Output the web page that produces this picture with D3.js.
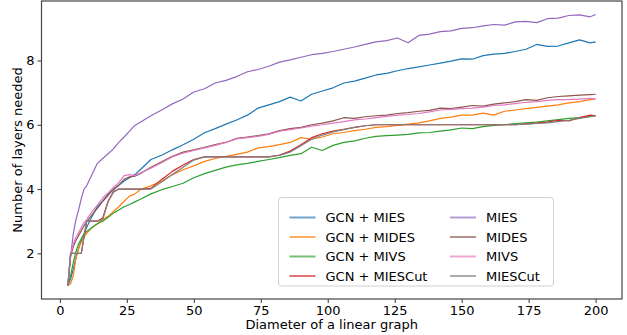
<!DOCTYPE html>
<html>
<head>
<meta charset="utf-8">
<script src="https://cdn.jsdelivr.net/npm/d3@7"></script>
<style>
  body { margin: 0; background: #fff; }
  svg { font-family: "DejaVu Sans", sans-serif; }
</style>
</head>
<body>
<div id="chart"></div>
<script>
// diameters sampled along the x axis
const diameters = [3,4,5,6,7,8,9,10,12,14,
  16,18,20,22,24,26,28,30,34,38,
  42,46,50,54,58,62,66,70,74,78,
  82,86,90,94,98,102,106,110,114,118,
  122,126,130,134,138,142,146,150,154,158,
  162,166,170,174,178,182,186,190,194,198,
  200];

const gcnMies = [1.0,1.2,1.5,1.85,2.15,2.4,2.6,2.8,3.15,3.45,
  3.62,3.85,3.98,4.12,4.25,4.35,4.45,4.6,4.92,5.05,
  5.22,5.38,5.55,5.75,5.88,6.02,6.15,6.3,6.52,6.62,
  6.72,6.86,6.74,6.95,7.05,7.15,7.3,7.36,7.45,7.55,
  7.6,7.68,7.75,7.8,7.86,7.92,7.98,8.05,8.04,8.15,
  8.2,8.22,8.28,8.35,8.5,8.44,8.45,8.55,8.64,8.55,
  8.58];
const gcnMides = [1.0,1.05,1.3,1.85,2.15,2.35,2.5,2.62,2.8,2.92,
  3.05,3.15,3.3,3.45,3.62,3.78,3.85,3.98,4.1,4.25,
  4.45,4.6,4.72,4.86,4.95,5.02,5.08,5.15,5.28,5.32,
  5.38,5.45,5.6,5.55,5.62,5.72,5.76,5.82,5.86,5.92,
  5.94,5.98,6.02,6.06,6.12,6.2,6.24,6.3,6.3,6.36,
  6.3,6.42,6.46,6.5,6.54,6.58,6.62,6.68,6.72,6.78,
  6.8];
const gcnMivs = [1.0,1.3,1.7,2.05,2.3,2.45,2.6,2.68,2.8,2.92,
  3.0,3.12,3.25,3.35,3.45,3.52,3.6,3.68,3.85,3.98,
  4.08,4.18,4.35,4.48,4.58,4.68,4.75,4.8,4.86,4.92,
  4.98,5.05,5.1,5.3,5.2,5.36,5.45,5.5,5.58,5.64,
  5.66,5.68,5.7,5.75,5.76,5.8,5.84,5.9,5.88,5.94,
  5.98,6.0,6.04,6.06,6.08,6.12,6.16,6.2,6.22,6.26,
  6.28];
const gcnMiesCut = [1.0,2.0,2.0,2.0,2.0,2.0,2.5,3.0,3.0,3.0,
  3.1,3.62,3.92,4.0,4.0,4.0,4.0,4.0,4.02,4.3,
  4.55,4.75,4.92,5.0,5.0,5.0,5.0,5.0,5.0,5.0,
  5.06,5.18,5.38,5.6,5.72,5.8,5.86,5.92,5.97,6.0,
  6.0,6.0,6.0,6.0,6.0,6.0,6.0,6.0,6.0,6.0,
  6.0,6.0,6.0,6.03,6.05,6.08,6.14,6.12,6.22,6.3,
  6.28];
const mies = [1.0,1.9,2.6,3.05,3.35,3.7,4.0,4.1,4.45,4.8,
  4.95,5.1,5.25,5.45,5.62,5.8,5.98,6.08,6.28,6.46,
  6.65,6.8,7.02,7.12,7.3,7.38,7.5,7.65,7.72,7.82,
  7.95,8.02,8.1,8.18,8.22,8.28,8.35,8.42,8.5,8.58,
  8.62,8.7,8.55,8.78,8.82,8.9,8.92,9.0,9.02,9.08,
  9.12,9.1,9.2,9.22,9.18,9.3,9.32,9.4,9.42,9.36,
  9.43];
const mides = [1.0,1.9,2.2,2.4,2.55,2.7,2.85,2.98,3.2,3.4,
  3.62,3.8,4.0,4.12,4.3,4.38,4.4,4.48,4.68,4.85,
  5.02,5.15,5.22,5.3,5.38,5.45,5.58,5.62,5.66,5.72,
  5.82,5.88,5.92,6.0,6.05,6.12,6.22,6.2,6.25,6.28,
  6.3,6.35,6.38,6.42,6.45,6.52,6.5,6.55,6.6,6.58,
  6.64,6.68,6.72,6.78,6.76,6.84,6.88,6.9,6.92,6.94,
  6.95];
const mivs = [1.0,1.95,2.3,2.5,2.65,2.8,2.95,3.05,3.3,3.5,
  3.72,3.88,4.05,4.2,4.42,4.45,4.42,4.5,4.65,4.82,
  5.0,5.12,5.2,5.28,5.36,5.45,5.56,5.6,5.64,5.7,
  5.8,5.85,5.9,5.96,6.0,6.05,6.1,6.15,6.18,6.22,
  6.26,6.3,6.32,6.35,6.4,6.46,6.48,6.5,6.52,6.55,
  6.6,6.62,6.66,6.7,6.72,6.76,6.78,6.78,6.8,6.82,
  6.8];
const miesCut = [1.0,2.0,2.0,2.0,2.0,2.0,2.5,3.0,3.0,3.0,
  3.05,3.6,3.9,4.0,4.0,4.0,4.0,4.0,4.0,4.22,
  4.45,4.68,4.9,5.0,5.0,5.0,5.0,5.0,5.0,5.0,
  5.05,5.15,5.35,5.55,5.68,5.78,5.85,5.92,5.97,6.0,
  6.0,6.0,6.0,6.0,6.0,6.0,6.0,6.0,6.0,6.0,
  6.0,6.0,6.0,6.02,6.04,6.06,6.1,6.14,6.2,6.25,
  6.28];

const seriesNames = ['GCN + MIES', 'GCN + MIDES', 'GCN + MIVS', 'GCN + MIESCut',
                     'MIES', 'MIDES', 'MIVS', 'MIESCut'];
const seriesValues = [gcnMies, gcnMides, gcnMivs, gcnMiesCut, mies, mides, mivs, miesCut];
const xTicks = [0, 25, 50, 75, 100, 125, 150, 175, 200];
const yTicks = [2, 4, 6, 8];

const colors = ['#1f77b4', '#ff7f0e', '#2ca02c', '#d62728',
                '#9467bd', '#8c564b', '#e377c2', '#7f7f7f'];

const W = 627, H = 335;
const plot = {left: 41.5, right: 622, top: 1, bottom: 299};
const fontSize = '13px';

const svg = d3.select('#chart').append('svg')
  .attr('width', W)
  .attr('height', H);

// matplotlib style 5% margins around the data
const xExt = d3.extent(diameters);
const yExt = d3.extent(seriesValues.flat());
const xPad = (xExt[1] - xExt[0]) * 0.05;
const yPad = (yExt[1] - yExt[0]) * 0.05;

const x = d3.scaleLinear()
  .domain([xExt[0] - xPad, xExt[1] + xPad])
  .range([plot.left, plot.right]);
const y = d3.scaleLinear()
  .domain([yExt[0] - yPad, yExt[1] + yPad])
  .range([plot.bottom, plot.top]);

const line = d3.line()
  .x(d => x(d[0]))
  .y(d => y(d[1]));

svg.append('defs').append('clipPath').attr('id', 'clip')
  .append('rect')
  .attr('x', plot.left).attr('y', plot.top)
  .attr('width', plot.right - plot.left)
  .attr('height', plot.bottom - plot.top);

const lines = svg.append('g').attr('clip-path', 'url(#clip)');
seriesValues.forEach((vals, i) => {
  const pts = diameters.map((d, j) => [d, vals[j]]).filter(p => p[1] != null);
  lines.append('path')
    .datum(pts)
    .attr('fill', 'none')
    .attr('stroke', colors[i])
    .attr('stroke-width', 1.2)
    .attr('stroke-linejoin', 'round')
    .attr('d', line);
});

// axes
const xAxis = d3.axisBottom(x).tickValues(xTicks).tickSize(4).tickPadding(3);
const yAxis = d3.axisLeft(y).tickValues(yTicks).tickSize(4).tickPadding(3);

const gx = svg.append('g')
  .attr('transform', 'translate(0,' + plot.bottom + ')')
  .call(xAxis);
const gy = svg.append('g')
  .attr('transform', 'translate(' + plot.left + ',0)')
  .call(yAxis);

[gx, gy].forEach(g => {
  g.select('.domain').remove();
  g.selectAll('.tick line').attr('stroke', '#333').attr('stroke-width', 1);
  g.selectAll('.tick text')
    .attr('fill', '#000')
    .style('font-size', fontSize)
    .style('font-family', '"DejaVu Sans", sans-serif');
});

// frame
svg.append('rect')
  .attr('x', plot.left).attr('y', plot.top)
  .attr('width', plot.right - plot.left)
  .attr('height', plot.bottom - plot.top)
  .attr('fill', 'none')
  .attr('stroke', '#444')
  .attr('stroke-width', 1.2);

// axis labels
svg.append('text')
  .attr('x', (plot.left + plot.right) / 2)
  .attr('y', 329)
  .attr('text-anchor', 'middle')
  .style('font-size', fontSize)
  .text('Diameter of a linear graph');

svg.append('text')
  .attr('transform', 'translate(22,' + ((plot.top + plot.bottom) / 2) + ') rotate(-90)')
  .attr('text-anchor', 'middle')
  .style('font-size', fontSize)
  .text('Number of layers needed');

// legend
const legend = svg.append('g').attr('transform', 'translate(278.5,197.5)');
legend.append('rect')
  .attr('width', 275)
  .attr('height', 88.5)
  .attr('rx', 3)
  .attr('fill', '#fff')
  .attr('fill-opacity', 0.8)
  .attr('stroke', '#d0d0d0')
  .attr('stroke-width', 1);

seriesNames.forEach((name, i) => {
  const col = Math.floor(i / 4), row = i % 4;
  const lx = 11 + col * 160.5;
  const ly = 20 + row * 19.5;
  const item = legend.append('g').attr('transform', 'translate(' + lx + ',' + ly + ')');
  item.append('line')
    .attr('x1', 0).attr('x2', 26)
    .attr('y1', 0).attr('y2', 0)
    .attr('stroke', colors[i])
    .attr('stroke-opacity', 0.65)
    .attr('stroke-width', 2);
  item.append('text')
    .attr('x', 36)
    .attr('y', 4.7)
    .style('font-size', fontSize)
    .text(name);
});
</script>
</body>
</html>
